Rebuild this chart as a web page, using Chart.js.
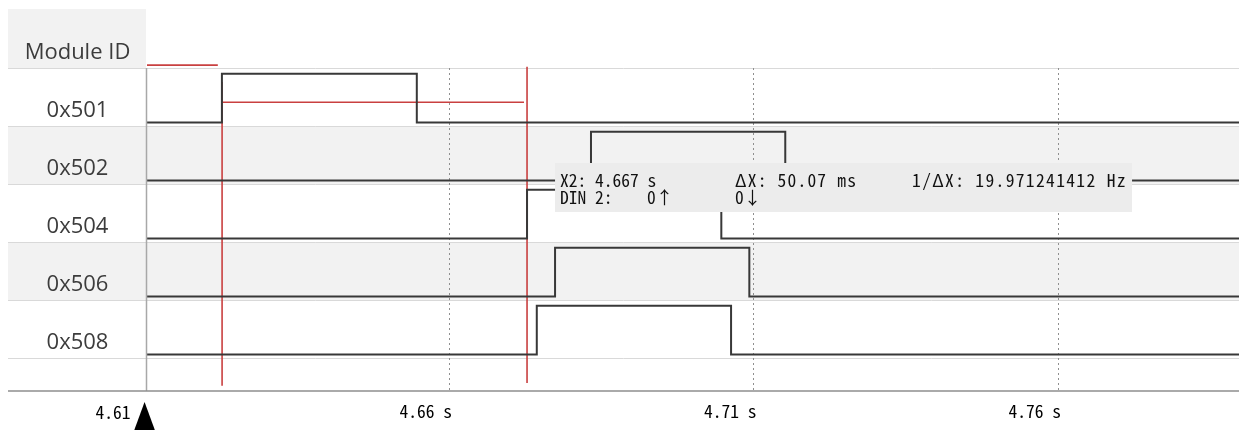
<!DOCTYPE html>
<html>
<head>
<meta charset="utf-8">
<script src="https://cdn.jsdelivr.net/npm/chart.js@4.4.1/dist/chart.umd.min.js"></script>
<style>
  html, body { margin: 0; padding: 0; background: #fff; }
  #wrap { width: 1239px; height: 430px; }
</style>
</head>
<body>
<div id="wrap"><canvas id="scope" width="1239" height="430"></canvas></div>
<script>
// ---- data -------------------------------------------------------------
const HEADER_LABEL = 'Module ID';
const MODULE_IDS = ['0x501', '0x502', '0x504', '0x506', '0x508'];

// visible capture window (s)
const VIEW_START = 4.6046;
const VIEW_END = 4.7839;

// digital lines: [time (s), level] – level holds from that time on
const STEPS_501 = [[VIEW_START, 0], [4.6169, 1], [4.6489, 0], [VIEW_END, 0]];
const STEPS_502 = [[VIEW_START, 0], [4.6775, 1], [4.7094, 0], [VIEW_END, 0]];
const STEPS_504 = [[VIEW_START, 0], [4.6670, 1], [4.6989, 0], [VIEW_END, 0]];
const STEPS_506 = [[VIEW_START, 0], [4.6716, 1], [4.7035, 0], [VIEW_END, 0]];
const STEPS_508 = [[VIEW_START, 0], [4.6686, 1], [4.7005, 0], [VIEW_END, 0]];
const MODULE_STEPS = [STEPS_501, STEPS_502, STEPS_504, STEPS_506, STEPS_508];

// measurement cursors
const CURSOR_X2 = 4.667;   // s
const DELTA_X = 0.050072;  // s, X2 - X1
const CURSOR_X1 = CURSOR_X2 - DELTA_X;
const DIN_LABEL = 'DIN 2:';
const DIN_RISES = 0;
const DIN_FALLS = 0;

// time axis (display time runs slightly ahead of capture time)
const AXIS_OFFSET = 0.0058;
const TICK_VALUES = [4.61, 4.66, 4.71, 4.76];
const TICK_LABELS = ['4.61', '4.66 s', '4.71 s', '4.76 s'];

// ---- styling ----------------------------------------------------------
const MONO = '"Noto Sans Mono CJK JP", "DejaVu Sans Mono", monospace';
const SANS = '"Open Sans", "Noto Sans", sans-serif';
const LOW_POS = 0.94;    // low level, fraction down a row
const HIGH_POS = 0.10;   // high level, fraction down a row
const Y_MAX = 5.57;      // five module rows plus the spare strip above the axis
const LABEL_LEFT = 8;
const SIGNAL_COLOR = '#383838';
const CURSOR_COLOR = '#c94040';
const BAND_COLOR = '#f2f2f2';

function signalDataset(steps, row) {
  return {
    data: steps.map(([t, lv]) => ({ x: t, y: row + (lv ? HIGH_POS : LOW_POS) })),
    stepped: 'before',
    borderColor: SIGNAL_COLOR,
    borderWidth: 2,
    pointRadius: 0,
    fill: false,
    xAxisID: 'x',
    yAxisID: 'y'
  };
}

function cursorDataset(points) {
  return {
    data: points,
    borderColor: CURSOR_COLOR,
    borderWidth: 1.6,
    pointRadius: 0,
    fill: false,
    clip: false,
    xAxisID: 'x',
    yAxisID: 'y'
  };
}

const datasets = [
  ...MODULE_STEPS.map((s, i) => signalDataset(s, i)),
  // X1 cursor with its flag and the ΔX span bar
  cursorDataset([{ x: CURSOR_X1, y: 0.24 }, { x: CURSOR_X1, y: 5.48 }]),
  cursorDataset([{ x: VIEW_START, y: -0.05 }, { x: CURSOR_X1 - 0.0007, y: -0.05 }]),
  cursorDataset([{ x: CURSOR_X1, y: 0.59 }, { x: CURSOR_X2 - 0.0005, y: 0.59 }]),
  // X2 cursor
  cursorDataset([{ x: CURSOR_X2, y: -0.02 }, { x: CURSOR_X2, y: 5.43 }])
];

function spacedText(ctx, text, x, y, spacing) {
  ctx.letterSpacing = spacing + 'px';
  ctx.fillText(text, x, y);
  ctx.letterSpacing = '0px';
}

// module table, row bands, readout box and start marker
const scopeFrame = {
  id: 'scopeFrame',
  beforeDraw(chart) {
    const { ctx, chartArea: a } = chart;
    const y = chart.scales.y;
    ctx.save();
    ctx.fillStyle = '#fff';
    ctx.fillRect(0, 0, chart.width, chart.height);

    // header cell
    const hTop = y.getPixelForValue(-1) - 1;
    const hBot = y.getPixelForValue(0);
    ctx.fillStyle = BAND_COLOR;
    ctx.fillRect(LABEL_LEFT, hTop, a.left - 1 - LABEL_LEFT, hBot - hTop);

    // alternating row bands
    MODULE_IDS.forEach((id, i) => {
      if (i % 2 === 1) {
        const t = y.getPixelForValue(i);
        const b = y.getPixelForValue(i + 1);
        ctx.fillRect(LABEL_LEFT, t, a.right - LABEL_LEFT, b - t);
      }
    });

    // row separators
    ctx.strokeStyle = '#d9d9d9';
    ctx.lineWidth = 1;
    for (let i = 0; i <= MODULE_IDS.length; i++) {
      const p = Math.round(y.getPixelForValue(i)) + 0.5;
      ctx.beginPath();
      ctx.moveTo(LABEL_LEFT, p);
      ctx.lineTo(a.right, p);
      ctx.stroke();
    }

    // labels
    const cx = (LABEL_LEFT + a.left) / 2;
    ctx.fillStyle = '#3c3c3c';
    ctx.font = '22px ' + SANS;
    ctx.textAlign = 'center';
    ctx.textBaseline = 'middle';
    ctx.fillText(HEADER_LABEL, cx, hBot - 15);
    MODULE_IDS.forEach((id, i) => {
      ctx.fillText(id, cx, y.getPixelForValue(i + 1) - 15);
    });
    ctx.restore();
  },
  afterDatasetsDraw(chart) {
    const { ctx, chartArea: a } = chart;
    const xs = chart.scales.x;
    ctx.save();
    // column and axis rules
    ctx.strokeStyle = '#a8a8a8';
    ctx.lineWidth = 1.5;
    ctx.beginPath();
    ctx.moveTo(a.left - 0.5, chart.scales.y.getPixelForValue(0));
    ctx.lineTo(a.left - 0.5, a.bottom);
    ctx.stroke();
    ctx.strokeStyle = '#8e8e8e';
    ctx.beginPath();
    ctx.moveTo(LABEL_LEFT, a.bottom);
    ctx.lineTo(a.right, a.bottom);
    ctx.stroke();

    // cursor readout box
    const bx = xs.getPixelForValue(CURSOR_X2) + 28;
    const by = 163;
    ctx.fillStyle = '#ececec';
    ctx.fillRect(bx, by, 577, 49);
    ctx.fillStyle = '#111';
    ctx.font = '17.5px ' + MONO;
    ctx.textAlign = 'left';
    ctx.textBaseline = 'middle';
    const r1 = by + 17, r2 = by + 34;
    spacedText(ctx, 'X2: ' + CURSOR_X2.toFixed(3) + ' s', bx + 5, r1, 0);
    spacedText(ctx, '\u0394X: ' + (DELTA_X * 1000).toFixed(2) + ' ms', bx + 180, r1, 1.2);
    spacedText(ctx, '1/\u0394X: ' + (1 / DELTA_X).toFixed(9) + ' Hz', bx + 357, r1, 1.35);
    spacedText(ctx, DIN_LABEL, bx + 5, r2, 0);
    spacedText(ctx, DIN_RISES + '\u2191', bx + 92, r2, 0);
    spacedText(ctx, DIN_FALLS + '\u2193', bx + 180, r2, 0);
    ctx.restore();
  },
  afterDraw(chart) {
    const { ctx, chartArea: a } = chart;
    const ax = chart.scales.xAxis;
    const px = ax.getPixelForValue(TICK_VALUES[0]);
    ctx.save();
    ctx.fillStyle = '#000';
    ctx.beginPath();
    ctx.moveTo(px, a.bottom + 11);
    ctx.lineTo(px + 11, chart.height + 2);
    ctx.lineTo(px - 11, chart.height + 2);
    ctx.closePath();
    ctx.fill();
    ctx.font = '17.5px ' + MONO;
    ctx.textAlign = 'right';
    ctx.textBaseline = 'middle';
    ctx.fillText(TICK_LABELS[0], px - 14, a.bottom + 21);
    ctx.restore();
  }
};

new Chart(document.getElementById('scope'), {
  type: 'line',
  data: { datasets },
  options: {
    responsive: false,
    animation: false,
    devicePixelRatio: 1,
    layout: { padding: { left: 147, top: 68, right: 0, bottom: 0 } },
    plugins: { legend: { display: false }, tooltip: { enabled: false } },
    scales: {
      x: { type: 'linear', min: VIEW_START, max: VIEW_END, display: false },
      y: { type: 'linear', min: 0, max: Y_MAX, reverse: true, display: false },
      xAxis: {
        type: 'linear',
        position: 'bottom',
        min: VIEW_START + AXIS_OFFSET,
        max: VIEW_END + AXIS_OFFSET,
        afterBuildTicks: s => { s.ticks = TICK_VALUES.map(v => ({ value: v })); },
        afterFit: s => { s.height = 39; },
        grid: {
          // the start tick sits just left of the plot: no grid line for it
          color: c => (c.index === 0 ? 'rgba(0,0,0,0)' : '#8f8f8f'),
          lineWidth: 1,
          drawTicks: false
        },
        border: { display: false, dash: [2, 3] },
        ticks: {
          autoSkip: false,
          maxRotation: 0,
          align: 'end',
          labelOffset: 3,
          padding: 10,
          color: '#000',
          font: { family: MONO, size: 17.5 },
          callback: (v, i) => (i === 0 ? '' : TICK_LABELS[i])
        }
      }
    }
  },
  plugins: [scopeFrame]
});
</script>
</body>
</html>
